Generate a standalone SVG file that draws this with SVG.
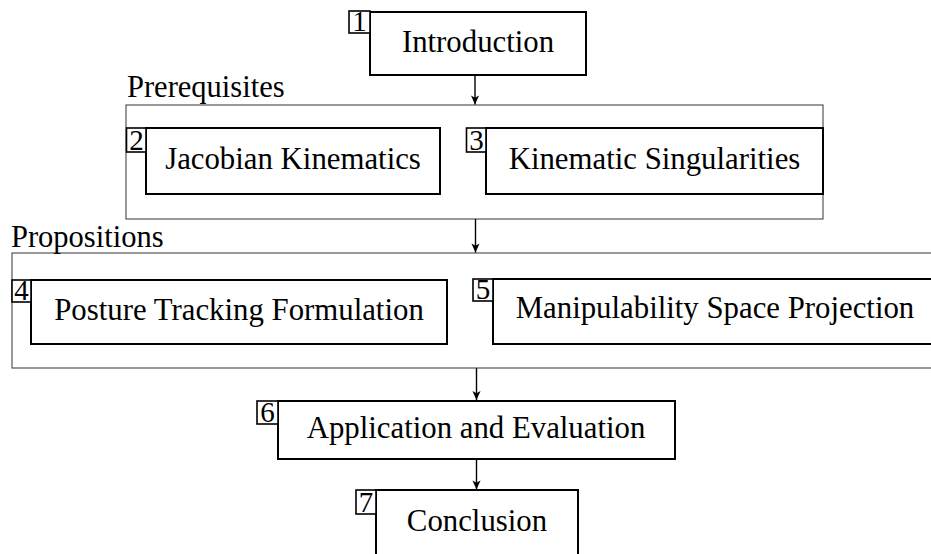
<svg xmlns="http://www.w3.org/2000/svg" width="931" height="554" viewBox="0 0 931 554">
<style>
text{font-family:'Liberation Serif',serif;fill:#000;}
.lbl{font-size:30.8px;text-anchor:middle;}
.num{font-size:29px;text-anchor:middle;}
.cap{font-size:30.5px;}
.node{fill:#fff;stroke:#000;stroke-width:2;}
.nb{fill:#fff;stroke:#000;stroke-width:1.6;}
.cont{fill:none;stroke:#555;stroke-width:1.2;}
.edge{stroke:#000;stroke-width:1.4;fill:none;marker-end:url(#ah);}
</style>
<defs>
<marker id="ah" viewBox="0 0 10 10" refX="10" refY="5" markerWidth="10" markerHeight="9" markerUnits="userSpaceOnUse" orient="auto">
<path d="M0,0.5 L10,5 L0,9.5 L2.5,5 Z" fill="#000"/>
</marker>
</defs>
<rect width="931" height="554" fill="#fff"/>
<g id="prerequisites">
<rect class="cont" x="126" y="105" width="697" height="114"/>
<text class="cap" x="127" y="97">Prerequisites</text>
</g>
<g id="propositions">
<rect class="cont" x="12" y="253" width="950" height="115"/>
<text class="cap" x="11" y="247">Propositions</text>
</g>
<g id="connectors">
<line class="edge" x1="475" y1="75" x2="475" y2="104.5"/>
<line class="edge" x1="475.5" y1="219" x2="475.5" y2="252.5"/>
<line class="edge" x1="476.5" y1="368" x2="476.5" y2="400"/>
<line class="edge" x1="476.5" y1="459" x2="476.5" y2="489.5"/>
</g>
<g id="n1">
<rect class="node" x="370" y="12" width="216" height="63"/>
<rect class="nb" x="349" y="11" width="21" height="22"/>
<text class="num" x="359.5" y="31">1</text>
<text class="lbl" x="478" y="52">Introduction</text>
</g>
<g id="n2">
<rect class="node" x="146" y="128" width="294" height="66"/>
<rect class="nb" x="126.5" y="128" width="19.5" height="24"/>
<text class="num" x="136.5" y="150">2</text>
<text class="lbl" x="293" y="169">Jacobian Kinematics</text>
</g>
<g id="n3">
<rect class="node" x="486" y="128" width="337" height="66"/>
<rect class="nb" x="466.5" y="128" width="19.5" height="24"/>
<text class="num" x="476.5" y="150">3</text>
<text class="lbl" x="654.5" y="169">Kinematic Singularities</text>
</g>
<g id="n4">
<rect class="node" x="31" y="280" width="416" height="64"/>
<rect class="nb" x="12" y="280" width="19" height="22"/>
<text class="num" x="21.5" y="300">4</text>
<text class="lbl" x="239" y="320">Posture Tracking Formulation</text>
</g>
<g id="n5">
<rect class="node" x="493" y="279" width="450" height="65"/>
<rect class="nb" x="473" y="279" width="20" height="22"/>
<text class="num" x="483" y="299">5</text>
<text class="lbl" x="715" y="318">Manipulability Space Projection</text>
</g>
<g id="n6">
<rect class="node" x="278" y="401" width="397" height="58"/>
<rect class="nb" x="257" y="401" width="21" height="23"/>
<text class="num" x="267.5" y="422">6</text>
<text class="lbl" x="476" y="438">Application and Evaluation</text>
</g>
<g id="n7">
<rect class="node" x="376" y="490" width="202" height="80"/>
<rect class="nb" x="356" y="490" width="20" height="24"/>
<text class="num" x="366" y="512">7</text>
<text class="lbl" x="477" y="531">Conclusion</text>
</g>
</svg>
